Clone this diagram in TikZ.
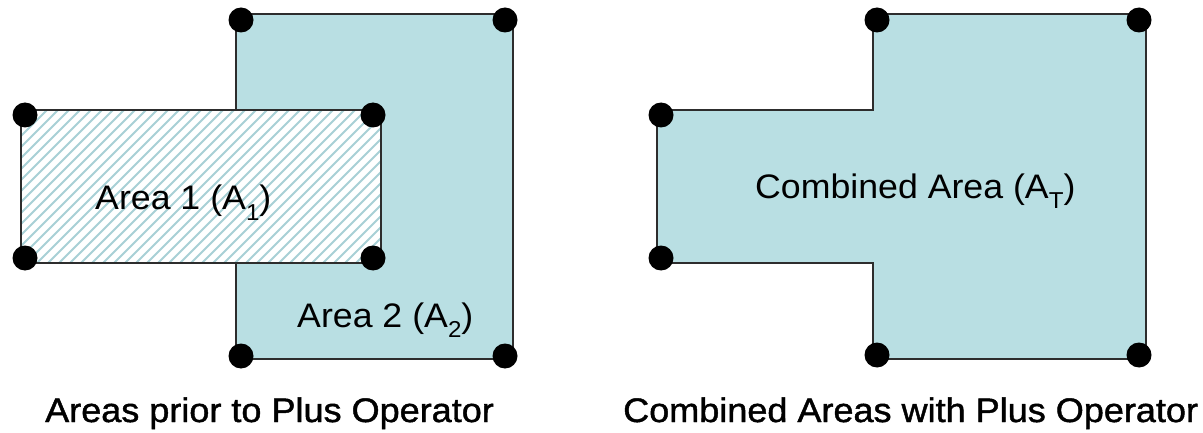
\documentclass[tikz,border=0pt]{standalone}
\usepackage{fontspec}
\setmainfont{Liberation Sans}[FakeStretch=1.05]
\newfontfamily\capfont{Liberation Sans}[FakeStretch=1.06,FakeBold=1.3]
\definecolor{areafill}{RGB}{185,223,227}
\definecolor{hatchcol}{RGB}{168,208,214}
\definecolor{edgecol}{RGB}{45,45,45}
\newcommand\subtxt[1]{\raisebox{-0.3em}{\fontsize{23}{23}\selectfont #1}}
\begin{document}
\begin{tikzpicture}[x=1pt,y=-1pt,
  outline/.style={draw=edgecol,line width=2pt},
  vertex/.style={circle,fill=black,inner sep=0pt,minimum size=25pt},
  lbl/.style={anchor=base west,inner sep=0pt,font=\fontsize{34}{40}\selectfont},
  caption/.style={anchor=base west,inner sep=0pt,font=\capfont\fontsize{34}{40}\selectfont},
  hatchline/.style={draw=hatchcol,line width=2pt}]
\useasboundingbox (0,0) rectangle (1203,433);
% Area 2
\fill[areafill] (236,14) rectangle (513,359);
\draw[outline] (236,14) rectangle (513,359);
% Area 1 (hatched)
\fill[white] (21,110) rectangle (381,263);
\begin{scope}
  \clip (21,110) rectangle (381,263);
  \foreach \i in {-150,-139,...,390} \draw[hatchline] (\i,263) -- ++(160,-160);
\end{scope}
\draw[outline] (21,110) rectangle (381,263);
% Combined shape
\draw[outline,fill=areafill] (873,14) -- (1146,14) -- (1146,359) -- (873,359) -- (873,263) -- (657,263) -- (657,110) -- (873,110) -- cycle;
% vertices
\node[vertex] (a2tl) at (241,20) {};
\node[vertex] (a2tr) at (505,20) {};
\node[vertex] (a2bl) at (241,356) {};
\node[vertex] (a2br) at (505,356) {};
\node[vertex] (a1tl) at (25,115) {};
\node[vertex] (a1tr) at (373,115) {};
\node[vertex] (a1bl) at (25,258) {};
\node[vertex] (a1br) at (373,258) {};
\node[vertex] (ctl) at (877,20) {};
\node[vertex] (ctr) at (1139,20) {};
\node[vertex] (cbl) at (877,355) {};
\node[vertex] (cbr) at (1139,355) {};
\node[vertex] (cl1) at (661,115) {};
\node[vertex] (cl2) at (661,258) {};
% labels
\node[lbl] (l1) at (95,210) {Area 1 (A\subtxt{1})};
\node[lbl] (l2) at (297,327) {Area 2 (A\subtxt{2})};
\node[lbl] (lt) at (755,198) {Combined Area (A\subtxt{T})};
\node[caption] (cap1) at (45,422) {Areas prior to Plus Operator};
\node[caption] (cap2) at (623,422) {Combined Areas with Plus Operator};
\end{tikzpicture}
\end{document}
